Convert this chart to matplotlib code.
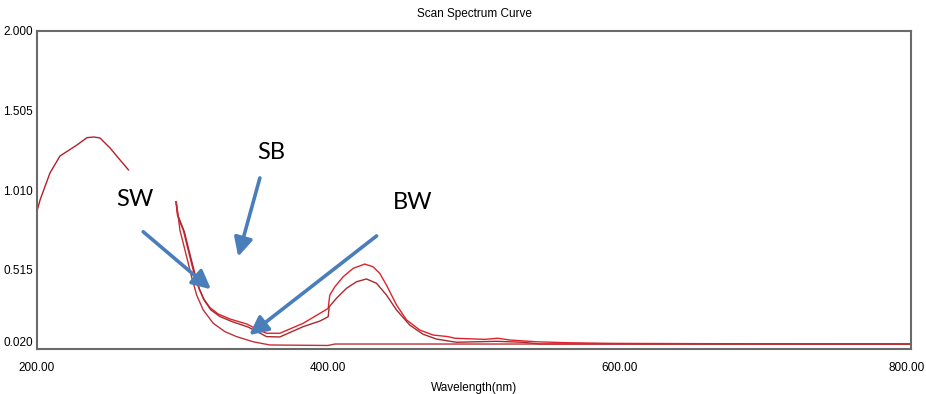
import matplotlib
matplotlib.use("Agg")
import matplotlib.pyplot as plt
from matplotlib.transforms import ScaledTranslation

# primer tramo (200-263 nm)
wl_a = [200.0, 202.1, 208.9, 215.8, 227.4, 234.3, 239.1, 243.2, 250.1, 255.9, 262.8]
abs_a = [0.879, 0.948, 1.116, 1.222, 1.290, 1.336, 1.340, 1.334, 1.272, 1.209, 1.135]

# curva superior (rojo claro)
wl_b = [295.4, 296.4, 298.1, 300.4, 303.8, 307.2, 310.7, 314.1, 318.7, 324.4, 332.4,
        343.9, 350.7, 357.6, 366.7, 382.7, 394.2, 399.9, 401.0, 404.5, 410.2, 417.0,
        425.0, 430.7, 435.3, 439.9, 446.8, 453.7, 462.8, 471.9, 482.2, 486.8, 507.4,
        516.3, 524.5, 542.8, 564.3, 595.2, 700.0, 799.7]
abs_b = [0.937, 0.854, 0.811, 0.761, 0.636, 0.512, 0.408, 0.336, 0.278, 0.238, 0.207,
         0.176, 0.145, 0.118, 0.118, 0.180, 0.242, 0.273, 0.356, 0.408, 0.470, 0.522,
         0.549, 0.532, 0.491, 0.418, 0.294, 0.201, 0.138, 0.107, 0.097, 0.087, 0.080,
         0.087, 0.076, 0.065, 0.059, 0.055, 0.052, 0.051]

# curva media (rojo oscuro)
wl_c = [295.4, 296.7, 298.8, 301.2, 304.6, 308.1, 311.5, 314.9, 319.4, 325.6, 333.8,
        344.8, 351.6, 357.6, 366.7, 382.7, 394.2, 399.9, 400.6, 405.6, 412.5, 419.4,
        426.2, 433.1, 439.9, 446.8, 455.9, 465.0, 474.2, 482.2, 488.0, 515.4, 533.4,
        545.1, 799.7]
abs_c = [0.937, 0.854, 0.804, 0.749, 0.624, 0.499, 0.394, 0.322, 0.263, 0.222, 0.191,
         0.157, 0.126, 0.097, 0.095, 0.159, 0.194, 0.221, 0.283, 0.336, 0.398, 0.439,
         0.456, 0.429, 0.356, 0.263, 0.169, 0.112, 0.082, 0.070, 0.062, 0.068, 0.062,
         0.051, 0.051]

# curva inferior
wl_d = [295.8, 298.1, 302.7, 306.1, 309.6, 314.1, 321.0, 329.0, 337.0, 348.4, 359.9,
        399.7, 404.5, 799.7]
abs_d = [0.929, 0.761, 0.595, 0.470, 0.356, 0.263, 0.180, 0.128, 0.097, 0.065, 0.045,
         0.042, 0.051, 0.051]

yticks = [2.000, 1.505, 1.010, 0.515, 0.020]
xticks = [200, 400, 600, 800]

fig = plt.figure(figsize=(9.26, 3.94), dpi=100)
ax = fig.add_axes([0.03996, 0.11421, 0.94384, 0.80711])

ax.plot(wl_a, abs_a, color='#b3202a', lw=1.0)
ax.plot(wl_b, abs_b, color='#e0222a', lw=1.0)
ax.plot(wl_c, abs_c, color='#a82830', lw=1.0)
ax.plot(wl_d, abs_d, color='#c03038', lw=1.0)

ax.set_xlim(200, 800)
ax.set_ylim(0.02, 2.0)

tick_font = ['Liberation Sans', 'DejaVu Sans']
ax.set_xticks(xticks)
ax.set_xticklabels(['%.2f' % v for v in xticks], family=tick_font, fontsize=8.5)
ax.set_yticks(yticks)
ax.set_yticklabels(['%.3f' % v for v in yticks], family=tick_font, fontsize=8.5)
ax.tick_params(axis='both', length=0)
ax.tick_params(axis='x', pad=9)
ax.tick_params(axis='y', pad=3)

for s in ax.spines.values():
    s.set_color('#6a6a6a')
    s.set_linewidth(1.5)

ax.set_title('Scan Spectrum Curve', family=tick_font, fontsize=8.5, pad=10)
ax.set_xlabel('Wavelength(nm)', family=tick_font, fontsize=8.5, labelpad=6)

# anotaciones con flechas azules
arrow = dict(arrowstyle='-|>', color='#4a7ebb', lw=2.6, mutation_scale=28,
             shrinkA=0, shrinkB=0)
ax.annotate('', xy=(319.4, 0.392), xytext=(272.9, 0.750), arrowprops=arrow)
ax.annotate('', xy=(338.1, 0.595), xytext=(353.0, 1.085), arrowprops=arrow)
ax.annotate('', xy=(345.7, 0.107), xytext=(433.1, 0.724), arrowprops=arrow)

label_font = ['Lato', 'DejaVu Sans']
ax.text(267.2, 0.948, 'SW', family=label_font, fontsize=17, ha='center', va='center')
ax.text(360.5, 1.243, 'SB', family=label_font, fontsize=17, ha='center', va='center')
ax.text(458.0, 0.932, 'BW', family=label_font, fontsize=17, ha='center', va='center')

# ajustar etiquetas de los extremos despues de dibujar
fig.canvas.draw()
ax.yaxis.get_ticklabels()[-1].set_va('bottom')
ult = ax.xaxis.get_ticklabels()[-1]
ult.set_ha('right')
ult.set_transform(ult.get_transform() + ScaledTranslation(0.14, 0, fig.dpi_scale_trans))

fig.savefig('out.png', dpi=100)
